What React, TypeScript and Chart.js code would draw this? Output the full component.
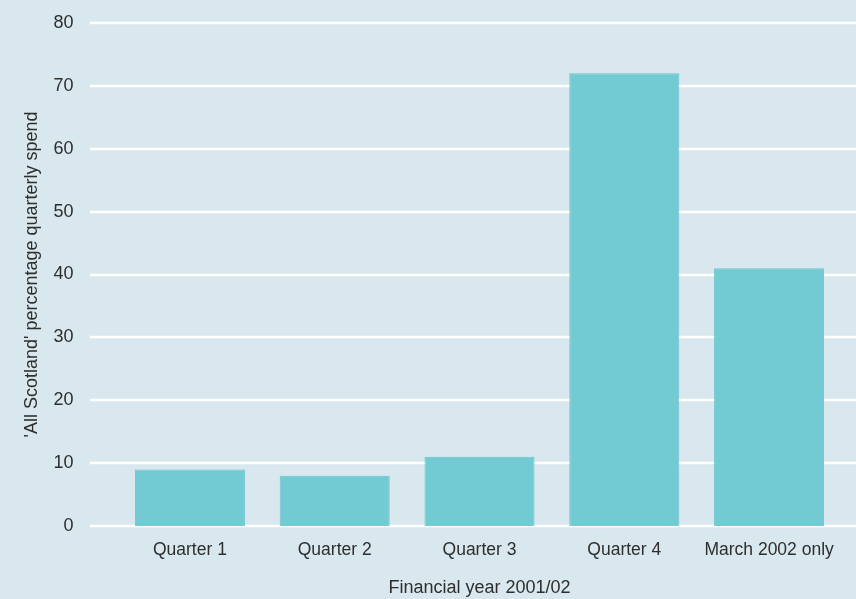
import React, { useEffect, useRef } from "react";
import { Chart, registerables } from "chart.js";

Chart.register(...registerables);

const categories = ["Quarter 1", "Quarter 2", "Quarter 3", "Quarter 4", "March 2002 only"];
const spendValues = [9, 8, 11, 72, 41];
const yTitle = "'All Scotland' percentage quarterly spend";
const xTitle = "Financial year 2001/02";

const BG = "#d8e8ee";
const BAR = "#72cbd3";
const TEXT = "#2e2e2e";
const FONT = "'Liberation Sans', Arial, sans-serif";

const bgPlugin = {
  id: "bgFill",
  beforeDraw(chart: any) {
    const { ctx, width, height } = chart;
    ctx.save();
    ctx.fillStyle = BG;
    ctx.fillRect(0, 0, width, height);
    ctx.restore();
  },
};

const gridPlugin = {
  id: "wideGrid",
  beforeDatasetsDraw(chart: any) {
    const { ctx, width } = chart;
    const y = chart.scales.y;
    ctx.save();
    ctx.strokeStyle = "#ffffff";
    ctx.lineWidth = 2.5;
    y.ticks.forEach((t: any) => {
      const py = Math.round(y.getPixelForValue(t.value));
      ctx.beginPath();
      ctx.moveTo(90, py);
      ctx.lineTo(width, py);
      ctx.stroke();
    });
    ctx.restore();
  },
};

export default function App() {
  const ref = useRef<HTMLCanvasElement>(null);
  useEffect(() => {
    document.body.style.margin = "0";
    const chart = new Chart(ref.current!, {
      type: "bar",
      data: {
        labels: categories,
        datasets: [
          {
            data: spendValues,
            backgroundColor: BAR,
            borderColor: "#6cc3cc",
            borderWidth: 1,
            barPercentage: 0.76,
            categoryPercentage: 1,
          },
        ],
      },
      options: {
        responsive: false,
        animation: false,
        layout: { padding: { top: 23, right: 14.5, left: 0, bottom: 0 } },
        plugins: { legend: { display: false }, tooltip: { enabled: false } },
        scales: {
          x: {
            grid: { display: false, drawTicks: false },
            border: { display: false },
            ticks: { color: TEXT, font: { family: FONT, size: 17.5 }, padding: 14 },
            title: {
              display: true,
              text: xTitle,
              color: TEXT,
              font: { family: FONT, size: 18 },
              padding: { top: 0, bottom: 0 },
            },
            afterFit: (s: any) => {
              s.height = 73;
              s.paddingLeft = 0;
              s.paddingRight = 0;
            },
          },
          y: {
            min: 0,
            max: 80,
            grid: { display: false, drawTicks: false },
            border: { display: false },
            ticks: { stepSize: 10, color: TEXT, font: { family: FONT, size: 18 }, padding: 44 },
            title: {
              display: true,
              text: yTitle,
              color: TEXT,
              font: { family: FONT, size: 18 },
              padding: { top: 21, bottom: 0 },
            },
            afterFit: (s: any) => {
              s.width = 117.5;
              s.paddingTop = 0;
              s.paddingBottom = 0;
            },
          },
        },
      },
      plugins: [bgPlugin, gridPlugin],
    });
    return () => chart.destroy();
  }, []);
  return (
    <div style={{ width: 856, height: 599 }}>
      <canvas ref={ref} width={856} height={599} />
    </div>
  );
}
